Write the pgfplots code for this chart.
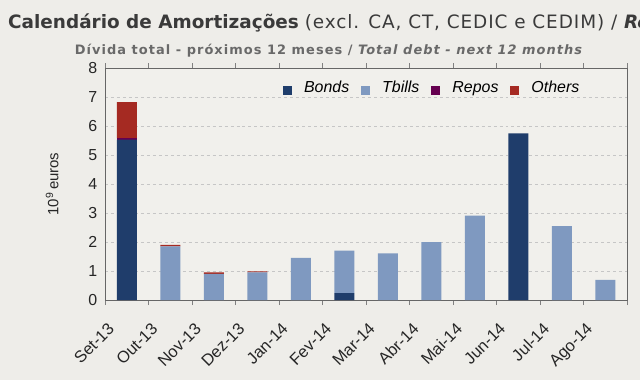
\documentclass[border=0pt]{standalone}
\usepackage{pgfplots}
\pgfplotsset{compat=1.18}
\usepackage{fontspec}
\setmainfont{Liberation Sans}
\newfontfamily\titlefont{DejaVu Sans}
\definecolor{bg}{RGB}{238,237,233}
\definecolor{bonds}{RGB}{31,61,107}
\definecolor{tbills}{RGB}{127,153,192}
\definecolor{repos}{RGB}{102,0,80}
\definecolor{others}{RGB}{165,42,34}
\definecolor{ttl}{RGB}{58,58,58}
\definecolor{sub}{RGB}{105,105,105}
\pgfplotsset{bigsquare/.style={legend image code/.code={\fill[##1] (0bp,-4.5bp) rectangle (9bp,4.5bp);}}}
\begin{document}
\begin{tikzpicture}[x=1bp,y=1bp]
\fill[bg] (0,0) rectangle (640,380);
\useasboundingbox (0,0) rectangle (640,380);
\node[anchor=base west, text=ttl, inner sep=0] at (8,352) {\titlefont\fontsize{18.5}{20}\selectfont\textbf{Calendário de Amortizações} {\addfontfeatures{LetterSpace=5}(excl. CA, CT, CEDIC e CEDIM) /} \textbf{\textit{Redemption profile}}};
\node[anchor=base, text=sub, inner sep=0] at (329,326) {\titlefont\fontsize{13}{15}\selectfont\addfontfeatures{LetterSpace=8}\textbf{Dívida total - próximos 12 meses / \textit{Total debt - next 12 months}}};
\begin{axis}[
  at={(105bp,80bp)}, anchor=south west,
  scale only axis, width=522bp, height=232bp,
  ybar stacked, bar width=20bp,
  xmin=-0.5, xmax=11.5, ymin=0, ymax=8,
  /pgf/number format/assume math mode=true,
  xtick={0,...,11},
  xticklabels={Set-13,Out-13,Nov-13,Dez-13,Jan-14,Fev-14,Mar-14,Abr-14,Mai-14,Jun-14,Jul-14,Ago-14},
  x tick label style={rotate=45, anchor=north east, font=\fontsize{16.5}{18}\selectfont, text=black!85, xshift=-23bp, yshift=5bp},
  major x tick style={draw=none},
  minor xtick={-0.5,0.5,...,11.5},
  minor tick length=5bp,
  minor x tick style={gray},
  tick align=outside,
  ytick={0,...,8},
  major y tick style={draw=none},
  y tick label style={font=\fontsize{16}{18}\selectfont, text=black!85},
  ylabel={10\textsuperscript{9}\,euros},
  ylabel style={font=\fontsize{15}{17}\selectfont, at={(-43bp,0.5)}, text=black!85},
  ymajorgrids, grid style={dashed, gray!45, line width=0.8pt},
  axis line style={gray!80!black, line width=1pt},
  axis background/.style={fill=bg!85!white},
  legend style={at={(0.335,0.905)}, anchor=west, draw=none, fill=none, font=\fontsize{16}{18}\selectfont\itshape, column sep=10bp, nodes={text depth=0.22em, text height=0.75em}},
  legend columns=4,
  legend image code/.code={\path (0bp,-4.5bp) rectangle (9bp,4.5bp); \fill[#1] (1bp,-3.5bp) rectangle (8bp,3.5bp);},
]
\addplot[fill=bonds, draw=none] coordinates {(0,5.53) (1,0) (2,0) (3,0) (4,0) (5,0.24) (6,0) (7,0) (8,0) (9,5.75) (10,0) (11,0)};
\addplot[fill=tbills, draw=none] coordinates {(0,0) (1,1.85) (2,0.90) (3,0.95) (4,1.45) (5,1.46) (6,1.61) (7,2.00) (8,2.91) (9,0) (10,2.55) (11,0.69)};
\addplot[fill=repos, draw=none, bigsquare] coordinates {(0,0.04) (1,0) (2,0) (3,0) (4,0) (5,0) (6,0) (7,0) (8,0) (9,0) (10,0) (11,0)};
\addplot[fill=others, draw=none] coordinates {(0,1.25) (1,0.05) (2,0.05) (3,0.04) (4,0) (5,0) (6,0) (7,0) (8,0) (9,0) (10,0) (11,0)};
\legend{Bonds,Tbills,Repos,Others}
\end{axis}
\end{tikzpicture}
\end{document}
